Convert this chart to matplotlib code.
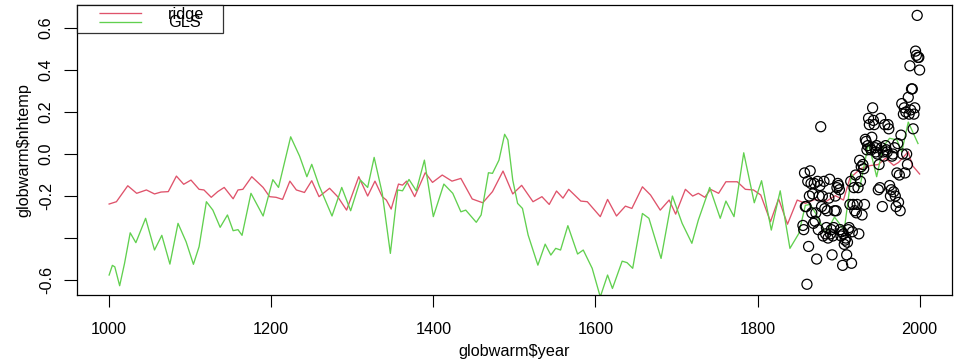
import numpy as np
import matplotlib.pyplot as plt
from matplotlib.lines import Line2D

# observed northern hemisphere temperature, 1856-2000
obs_years = list(range(1856, 2001))
nhtemp = [
    -0.34, -0.36, -0.09, -0.25,                                          # 1856-1859
    -0.25, -0.62, -0.13, -0.44, -0.20, -0.08, -0.14, -0.28, -0.19, -0.33,  # 1860s
    -0.14, -0.32, -0.28, -0.50, -0.13, -0.36, -0.20, -0.15, 0.13, -0.25,   # 1870s
    -0.20, -0.39, -0.13, -0.26, -0.38, -0.35, -0.27, -0.40, -0.21, -0.12,  # 1880s
    -0.38, -0.36, -0.48, -0.39, -0.35, -0.27, -0.20, -0.27, -0.16, -0.14,  # 1890s
    -0.15, -0.17, -0.36, -0.39, -0.37, -0.53, -0.38, -0.43, -0.41, -0.40,  # 1900s
    -0.48, -0.42, -0.36, -0.35, -0.24, -0.13, -0.52, -0.37, -0.24, -0.16,  # 1910s
    -0.27, -0.10, -0.28, -0.24, -0.16, -0.38, -0.03, -0.13, -0.06, -0.29,  # 1920s
    -0.05, -0.07, -0.24, 0.07, 0.06, 0.02, 0.04, 0.17, 0.14, 0.03,         # 1930s
    0.02, 0.08, 0.22, 0.16, 0.14, 0.03, 0.01, 0.04, 0.00, -0.17,           # 1940s
    -0.05, -0.16, 0.17, 0.03, -0.25, 0.01, -0.01, 0.14, 0.04, 0.02,        # 1950s
    0.01, 0.14, 0.12, -0.15, -0.20, -0.17, -0.01, 0.00, -0.18, 0.03,       # 1960s
    -0.20, -0.25, -0.09, 0.05, -0.23, -0.10, -0.27, 0.09, 0.24, 0.00,      # 1970s
    0.19, 0.22, -0.09, 0.20, 0.00, -0.05, 0.27, 0.19, 0.42, 0.21,          # 1980s
    0.31, 0.31, 0.12, 0.19, 0.22, 0.49, 0.47, 0.66, 0.46, 0.46, 0.40,      # 1990-2000
]

# fitted ridge curve (values read at its turning points)
ridge_years = [1000, 1009, 1023, 1034, 1046, 1056, 1064, 1073, 1083, 1092,
               1101, 1111, 1117, 1126, 1134, 1142, 1153, 1159, 1165, 1176,
               1184, 1190, 1198, 1206, 1214, 1223, 1231, 1241, 1250, 1259,
               1272, 1282, 1293, 1308, 1319, 1328, 1337, 1342, 1348, 1357,
               1362, 1367, 1377, 1390, 1399, 1411, 1423, 1434, 1448, 1461,
               1473, 1486, 1498, 1509, 1523, 1534, 1543, 1552, 1560, 1567,
               1582, 1590, 1606, 1615, 1626, 1637, 1645, 1658, 1668, 1680,
               1691, 1699, 1711, 1720, 1727, 1735, 1742, 1752, 1761, 1775,
               1785, 1795, 1804, 1816, 1826, 1837, 1849, 1859, 1871, 1884,
               1896, 1906, 1914, 1927, 1939, 1949, 1958, 1968, 1974, 1986,
               1991, 2000]
ridge = [-0.238, -0.227, -0.151, -0.187, -0.171, -0.190, -0.181, -0.179, -0.105, -0.144,
         -0.124, -0.168, -0.171, -0.206, -0.179, -0.159, -0.213, -0.171, -0.168, -0.108,
         -0.137, -0.159, -0.203, -0.206, -0.216, -0.129, -0.171, -0.183, -0.127, -0.203,
         -0.163, -0.203, -0.267, -0.108, -0.200, -0.129, -0.203, -0.219, -0.262, -0.143,
         -0.148, -0.129, -0.203, -0.089, -0.135, -0.100, -0.129, -0.116, -0.214, -0.232,
         -0.179, -0.081, -0.190, -0.149, -0.227, -0.203, -0.240, -0.176, -0.210, -0.168,
         -0.224, -0.227, -0.298, -0.216, -0.295, -0.248, -0.259, -0.156, -0.195, -0.267,
         -0.219, -0.286, -0.168, -0.200, -0.187, -0.206, -0.168, -0.187, -0.132, -0.132,
         -0.168, -0.171, -0.195, -0.322, -0.213, -0.334, -0.219, -0.235, -0.216, -0.227,
         -0.198, -0.219, -0.115, -0.070, -0.055, -0.050, -0.020, -0.054, -0.040, 0.011,
         -0.054, -0.095]

# fitted GLS curve (values read at its turning points)
gls_years = [1000, 1004, 1007, 1013, 1019, 1026, 1033, 1045, 1056, 1065,
             1075, 1085, 1095, 1104, 1111, 1120, 1128, 1137, 1146, 1153,
             1159, 1164, 1175, 1190, 1202, 1209, 1224, 1235, 1244, 1250,
             1259, 1275, 1287, 1298, 1310, 1319, 1327, 1337, 1347, 1356,
             1362, 1370, 1379, 1389, 1400, 1413, 1424, 1434, 1440, 1453,
             1459, 1468, 1473, 1481, 1488, 1492, 1498, 1504, 1510, 1517,
             1529, 1538, 1545, 1551, 1557, 1566, 1578, 1585, 1596, 1606,
             1615, 1621, 1633, 1639, 1646, 1658, 1666, 1681, 1695, 1707,
             1719, 1727, 1741, 1754, 1761, 1771, 1783, 1796, 1805, 1817,
             1828, 1840, 1851, 1859, 1865, 1872, 1884, 1895, 1907, 1916,
             1926, 1937, 1947, 1955, 1963, 1972, 1978, 1986, 1998]
gls = [-0.576, -0.530, -0.537, -0.627, -0.521, -0.375, -0.422, -0.306, -0.457, -0.387,
       -0.524, -0.330, -0.418, -0.525, -0.441, -0.227, -0.267, -0.349, -0.290, -0.365,
       -0.360, -0.387, -0.187, -0.295, -0.122, -0.159, 0.082, -0.010, -0.108, -0.049,
       -0.150, -0.295, -0.159, -0.270, -0.124, -0.159, -0.016, -0.187, -0.473, -0.171,
       -0.175, -0.121, -0.175, -0.029, -0.298, -0.143, -0.187, -0.275, -0.267, -0.325,
       -0.290, -0.089, -0.092, -0.029, 0.094, 0.067, -0.124, -0.235, -0.259, -0.386,
       -0.529, -0.429, -0.481, -0.449, -0.457, -0.341, -0.476, -0.457, -0.544, -0.680,
       -0.576, -0.640, -0.510, -0.517, -0.544, -0.283, -0.306, -0.497, -0.200, -0.330,
       -0.425, -0.314, -0.159, -0.306, -0.224, -0.298, 0.006, -0.232, -0.127, -0.362,
       -0.175, -0.449, -0.378, -0.244, -0.240, -0.284, -0.378, -0.300, -0.362, -0.095,
       -0.163, 0.051, -0.108, 0.035, 0.075, 0.067, 0.011, 0.152, 0.050]

x_ticks = [1000, 1200, 1400, 1600, 1800, 2000]
y_ticks = [-0.6, -0.4, -0.2, 0.0, 0.2, 0.4, 0.6]
y_tick_labels = ["-0.6", "", "-0.2", "0.0", "0.2", "0.4", "0.6"]

RED = "#DF536B"
GREEN = "#61D04F"

plt.rcParams["font.family"] = ["Liberation Sans", "DejaVu Sans"]
fs = 11.7

fig = plt.figure(figsize=(9.6, 3.6), dpi=100)
ax = fig.add_axes([0.0799, 0.1806, 0.9118, 0.8064])

ax.scatter(obs_years, nhtemp, s=52, facecolors="none", edgecolors="black",
           linewidths=0.9, zorder=3)
ax.plot(ridge_years, ridge, color=RED, lw=0.95, zorder=2)
ax.plot(gls_years, gls, color=GREEN, lw=0.95, zorder=2)

ax.set_xlim(960, 2040)
ax.set_ylim(-0.671, 0.711)
ax.set_xticks(x_ticks)
ax.set_xticklabels([str(t) for t in x_ticks], fontsize=fs)
ax.set_yticks(y_ticks)
ax.set_yticklabels(y_tick_labels, fontsize=fs, rotation=90, va="center")
ax.tick_params(axis="x", length=8.6, width=0.8, pad=10.5)
ax.tick_params(axis="y", length=9.5, width=0.8, pad=7)
for s in ax.spines.values():
    s.set_linewidth(0.9)

ax.set_xlabel("globwarm$year", fontsize=fs, labelpad=5.5)
ax.set_ylabel("globwarm$nhtemp", fontsize=fs, labelpad=5)

# legend: line keys start a little right of the box edge, as in R
dash = (32.4, 15.1)
handles = [Line2D([], [], color=RED, lw=0.95, linestyle=(32.4, dash)),
           Line2D([], [], color=GREEN, lw=0.95, linestyle=(32.4, dash))]
leg = ax.legend(handles, ["ridge", "GLS"], loc="upper left", fontsize=fs,
                bbox_to_anchor=(0, 1, 0.1668, 0), mode="expand",
                frameon=True, fancybox=False, borderaxespad=0, borderpad=0.13,
                handlelength=4.06, handletextpad=1.42, labelspacing=-0.39)
leg.get_frame().set_edgecolor("black")
leg.get_frame().set_linewidth(0.9)

fig.savefig("out.png", dpi=100)
